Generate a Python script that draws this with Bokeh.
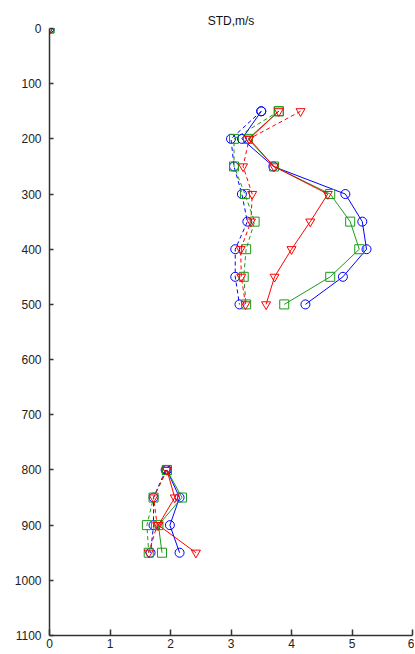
import math
from bokeh.plotting import figure
from bokeh.models import ColumnDataSource, Range1d, LinearAxis, FixedTicker
from bokeh.embed import file_html
from bokeh.resources import INLINE

nan = float("nan")

# pressure / height levels (y)
levels = [0, 100, 150, 200, 250, 300, 350, 400, 450, 500, 600, 800, 850, 900, 950]

# solid-line series
blue_solid = [0, nan, 3.50, 3.18, 3.70, 4.89, 5.17, 5.24, 4.85, 4.23, nan, 1.94, 2.15, 1.99, 2.15]
green_solid = [0, nan, 3.79, 3.28, 3.71, 4.64, 4.97, 5.12, 4.64, 3.88, nan, 1.94, 2.19, 1.80, 1.86]
red_solid = [0, nan, 3.79, 3.30, 3.71, 4.60, 4.31, 4.00, 3.72, 3.58, nan, 1.94, 2.07, 1.80, 2.42]

# dashed-line series
blue_dash = [0, nan, 3.50, 3.00, 3.05, 3.18, 3.27, 3.07, 3.07, 3.14, nan, 1.92, 1.72, 1.72, 1.67]
green_dash = [0, nan, 3.79, 3.05, 3.05, 3.23, 3.39, 3.25, 3.21, 3.25, nan, 1.94, 1.72, 1.61, 1.64]
red_dash = [0, nan, 4.15, 3.30, 3.20, 3.35, 3.33, 3.16, 3.17, 3.24, nan, 1.94, 1.72, 1.78, 1.64]

x_ticks = [0, 1, 2, 3, 4, 5, 6]
y_ticks = [0, 100, 200, 300, 400, 500, 600, 700, 800, 900, 1000, 1100]
title_text = "STD,m/s"

src = ColumnDataSource(dict(
    y=levels,
    blue_solid=blue_solid, green_solid=green_solid, red_solid=red_solid,
    blue_dash=blue_dash, green_dash=green_dash, red_dash=red_dash,
))

p = figure(width=414, height=654, output_backend="svg", toolbar_location=None,
           title=title_text,
           x_range=Range1d(0, 6.0), y_range=Range1d(1100, 0),
           x_axis_location=None, y_axis_location=None,
           min_border_left=49, min_border_right=2, min_border_top=28, min_border_bottom=19)
p.outline_line_color = None
p.grid.visible = False
p.background_fill_color = "white"
p.title.align = "center"
p.title.text_font = "Liberation Sans"
p.title.text_font_size = "12px"
p.title.text_font_style = "normal"
p.title.text_color = "#111111"
p.title.standoff = 2
p.title.offset = 0

BLUE = "#0000ff"
GREEN = "#199a19"
RED = "#ff0000"

specs = [
    ("blue_dash", BLUE, "circle", "4 3"),
    ("green_dash", GREEN, "square", "4 3"),
    ("red_dash", RED, "inverted_triangle", "4 3"),
    ("blue_solid", BLUE, "circle", "solid"),
    ("green_solid", GREEN, "square", "solid"),
    ("red_solid", RED, "inverted_triangle", "solid"),
]
for col, color, marker, dash in specs:
    p.line(x=col, y="y", source=src, line_color=color, line_width=1, line_dash=dash)
    p.scatter(x=col, y="y", source=src, marker=marker, size=9, line_color=color,
              fill_color=None, line_width=1)

def style_axis(ax):
    ax.axis_line_color = "#333333"
    ax.axis_line_width = 1.5
    ax.major_tick_line_color = "#333333"
    ax.major_tick_line_width = 1.5
    ax.major_tick_in = 6
    ax.major_tick_out = 0
    ax.minor_tick_line_color = None
    ax.major_label_text_font = "Liberation Sans"
    ax.major_label_text_font_size = "12px"
    ax.major_label_text_color = "#222222"

xax = LinearAxis(ticker=FixedTicker(ticks=x_ticks))
style_axis(xax)
xax.major_label_standoff = 3
p.add_layout(xax, "below")

yax = LinearAxis(ticker=FixedTicker(ticks=y_ticks))
style_axis(yax)
yax.major_tick_in = 4
yax.major_label_standoff = 8
p.add_layout(yax, "left")

open("out.html", "w").write(file_html(p, INLINE))
